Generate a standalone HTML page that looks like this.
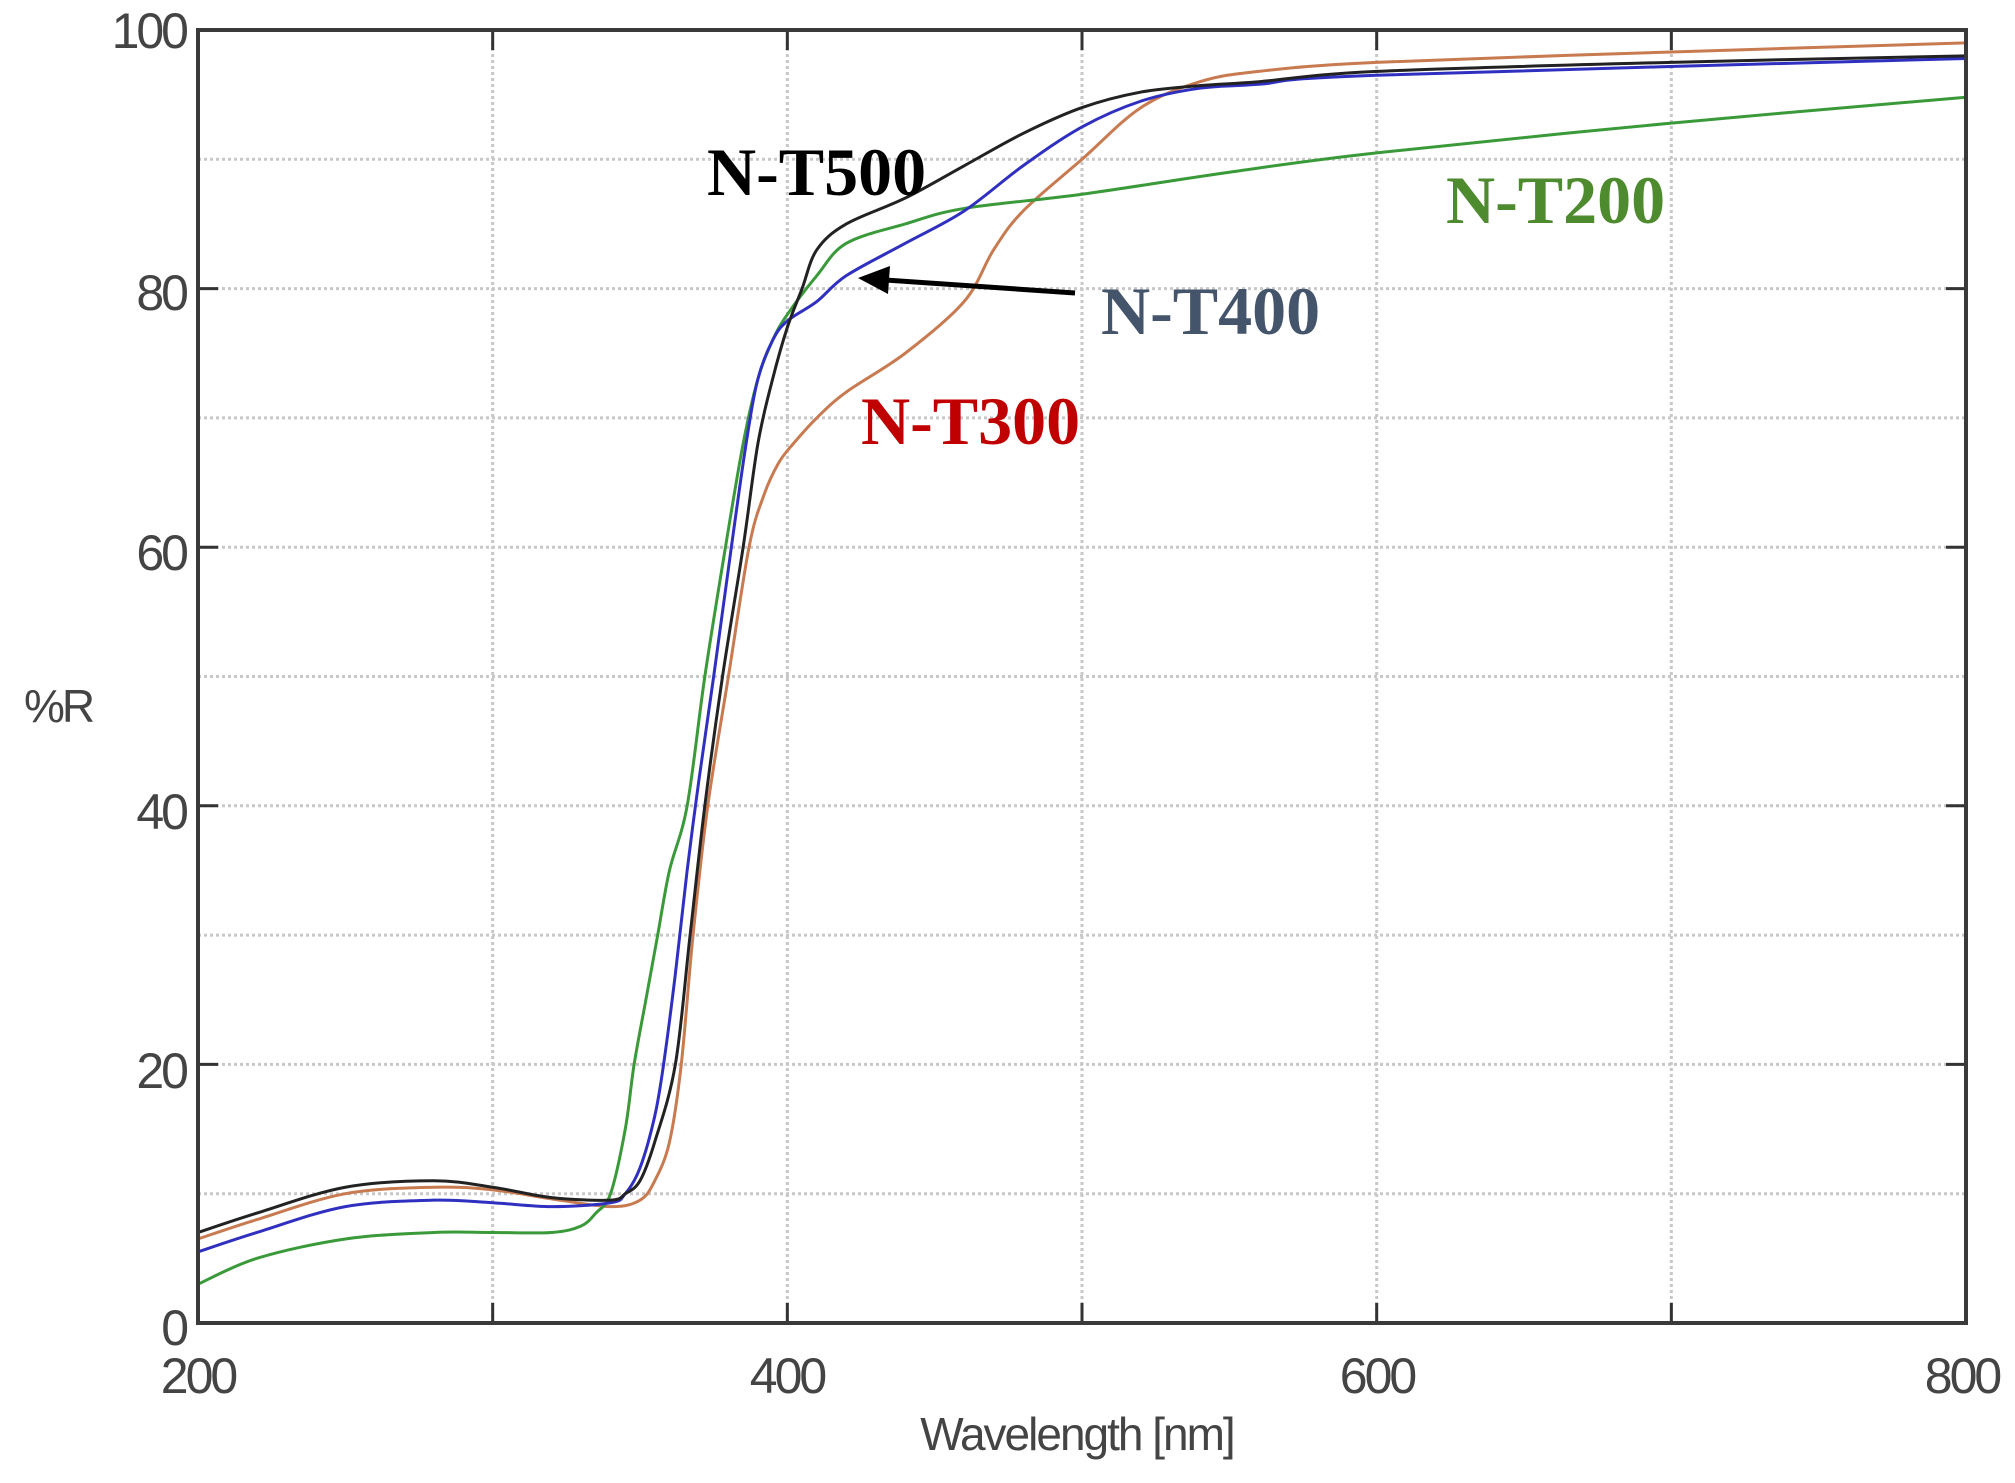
<!DOCTYPE html>
<html><head><meta charset="utf-8"><style>
html,body{margin:0;padding:0;background:#fff;}
svg{display:block;}
.t{font-family:"Liberation Sans",sans-serif;font-size:50px;fill:#444;letter-spacing:-3px;}
.s{font-family:"Liberation Serif",serif;font-weight:bold;font-size:68px;}
</style></head><body>
<svg id="c" width="2015" height="1483" xmlns="http://www.w3.org/2000/svg">
<g id="grid" stroke="#c8c8c8" stroke-width="3" stroke-dasharray="3,3"></g>
<g id="ticks" stroke="#333" stroke-width="3"></g>
<g id="curves" fill="none" stroke-width="3"></g>
<rect x="198" y="30" width="1768" height="1293" fill="none" stroke="#3a3a3a" stroke-width="4"/>
<text class="t" x="186" y="48" text-anchor="end">100</text>
<text class="t" x="186" y="310" text-anchor="end">80</text>
<text class="t" x="186" y="570" text-anchor="end">60</text>
<text class="t" x="186" y="829" text-anchor="end">40</text>
<text class="t" x="186" y="1088" text-anchor="end">20</text>
<text class="t" x="186" y="1345" text-anchor="end">0</text>
<text class="t" x="198" y="1393" text-anchor="middle">200</text>
<text class="t" x="787" y="1393" text-anchor="middle">400</text>
<text class="t" x="1377" y="1393" text-anchor="middle">600</text>
<text class="t" x="1962" y="1393" text-anchor="middle">800</text>
<text class="t" x="1077" y="1450" text-anchor="middle" style="font-size:46px;letter-spacing:-2px">Wavelength [nm]</text>
<text class="t" x="58" y="722" text-anchor="middle" style="font-size:46px">%R</text>
<text class="s" x="707" y="195" fill="#000">N-T500</text>
<text class="s" x="1446" y="223" fill="#4e8a2e">N-T200</text>
<text class="s" x="1101" y="334" fill="#44546a">N-T400</text>
<text class="s" x="861" y="444" fill="#c00000">N-T300</text>
<line x1="1075" y1="293" x2="885" y2="280" stroke="#000" stroke-width="5"/>
<polygon points="858,278 890,266 888,294" fill="#000"/>
</svg>
<script>
const X=n=>198+(n-200)*2.9467, Y=r=>1323-r*12.93;
const g=document.getElementById('grid'),tk=document.getElementById('ticks'),cv=document.getElementById('curves');
const ns='http://www.w3.org/2000/svg';
function ln(p,a){const l=document.createElementNS(ns,'line');for(const k in a)l.setAttribute(k,a[k]);p.appendChild(l);}
for(let r=10;r<100;r+=10)ln(g,{x1:198,x2:1966,y1:Y(r),y2:Y(r)});
for(let n=300;n<800;n+=100)ln(g,{x1:X(n),x2:X(n),y1:30,y2:1323});
for(let r=20;r<100;r+=20){ln(tk,{x1:198,x2:218,y1:Y(r),y2:Y(r)});ln(tk,{x1:1946,x2:1966,y1:Y(r),y2:Y(r)});}
for(let n=300;n<800;n+=100){ln(tk,{x1:X(n),x2:X(n),y1:1323,y2:1303});ln(tk,{x1:X(n),x2:X(n),y1:30,y2:50});}
const D={
'#c87a50':[[200,6.5],[220,8],[250,10],[280,10.5],[300,10.3],[320,9.6],[340,9],[350,9.5],[355,11],[360,14],[364,20],[368,30],[373,40],[380,50],[387,60],[392,64],[397,66.5],[402,68],[410,70],[420,72],[440,75],[460,79],[470,83],[480,86],[500,90],[520,94],[540,96],[560,96.8],[600,97.5],[700,98.3],[800,99]],
'#3a9a3a':[[200,3],[220,5],[250,6.5],[280,7],[300,7],[320,7],[330,7.5],[335,8.5],[340,10],[345,15],[348,20],[352,25],[356,30],[360,35],[366,40],[372,50],[379,60],[385,68],[390,73],[395,76],[400,78],[410,81],[420,83.5],[440,85],[460,86.2],[500,87.3],[550,89],[600,90.5],[700,92.8],[800,94.8]],
'#3030c0':[[200,5.5],[220,7],[250,9],[280,9.5],[300,9.3],[320,9],[340,9.3],[345,10],[350,12],[355,16],[358,20],[362,27],[366,35],[370,42],[375,50],[381,60],[386,68],[390,73],[395,76],[400,77.5],[410,79],[420,81],[440,83.5],[460,86],[480,89.5],[500,92.5],[520,94.5],[540,95.5],[560,95.8],[600,96.5],[800,97.8]],
'#222':[[200,7],[220,8.5],[250,10.5],[280,11],[300,10.5],[320,9.7],[340,9.5],[345,10],[350,11],[355,14],[362,20],[367,30],[372,40],[378,50],[385,60],[390,68],[395,73],[400,77],[405,80],[410,83],[420,85],[440,87],[460,89.5],[480,92],[500,94],[520,95.2],[540,95.7],[560,96],[600,96.8],[700,97.5],[800,98]]};
for(const c in D){const p=D[c].map(([n,r])=>[X(n),Y(r)]);let d='M'+p[0];
for(let i=0;i<p.length-1;i++){const p0=p[i-1]||p[i],p1=p[i],p2=p[i+1],p3=p[i+2]||p2;
d+=` C${p1[0]+(p2[0]-p0[0])/6},${p1[1]+(p2[1]-p0[1])/6} ${p2[0]-(p3[0]-p1[0])/6},${p2[1]-(p3[1]-p1[1])/6} ${p2[0]},${p2[1]}`;}
const e=document.createElementNS(ns,'path');e.setAttribute('d',d);e.setAttribute('stroke',c);cv.appendChild(e);}
</script>
</body></html>
